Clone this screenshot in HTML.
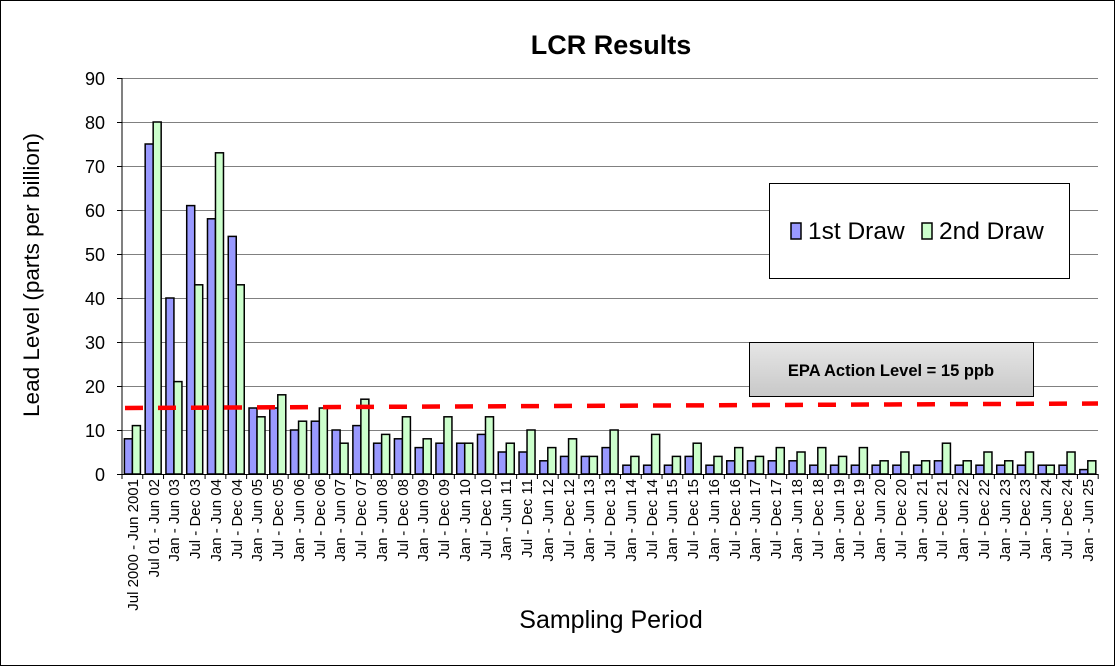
<!DOCTYPE html>
<html><head><meta charset="utf-8"><style>
html,body{margin:0;padding:0;background:#fff;}
svg{display:block;font-family:"Liberation Sans",Arial,sans-serif;}
</style></head><body>
<svg id="s" width="1116" height="667" xmlns="http://www.w3.org/2000/svg">
<rect x="0.5" y="0.5" width="1114" height="665" fill="#fff" stroke="#000"/>
<text x="611" y="54" text-anchor="middle" font-size="27" font-weight="bold">LCR Results</text>
<g id="grid" stroke="#808080" stroke-width="1"></g>
<g id="bars"></g>
<line x1="122" y1="78" x2="122" y2="474" stroke="#000"/>
<line x1="122" y1="474.5" x2="1098" y2="474.5" stroke="#000"/>
<g font-size="18" text-anchor="end">
<text x="105" y="481">0</text><text x="105" y="437">10</text><text x="105" y="393">20</text><text x="105" y="349">30</text><text x="105" y="305">40</text><text x="105" y="261">50</text><text x="105" y="217">60</text><text x="105" y="173">70</text><text x="105" y="129">80</text><text x="105" y="85">90</text>
</g>
<text transform="translate(39,275) rotate(-90)" text-anchor="middle" font-size="22.5">Lead Level (parts per billion)</text>
<text x="611" y="628" text-anchor="middle" font-size="25">Sampling Period</text>
<line x1="125" y1="408" x2="1098" y2="403.5" stroke="#f00" stroke-width="4.5" stroke-dasharray="18 15"/>
<rect x="769.5" y="183.5" width="300" height="95" fill="#fff" stroke="#000"/>
<rect x="791" y="223" width="10" height="16" fill="#9999ff" stroke="#000" stroke-width="1.5"/>
<text x="808" y="239" font-size="24.5">1st Draw</text>
<rect x="922" y="223" width="10" height="16" fill="#ccffcc" stroke="#000" stroke-width="1.5"/>
<text x="939" y="239" font-size="24.5">2nd Draw</text>
<defs><linearGradient id="gg" x1="0" y1="0" x2="0" y2="1"><stop offset="0" stop-color="#e6e6e6"/><stop offset="1" stop-color="#c8c8c8"/></linearGradient></defs>
<rect x="749.5" y="342.5" width="284" height="54" fill="url(#gg)" stroke="#000"/>
<text x="891" y="376" text-anchor="middle" font-size="16.5" font-weight="bold">EPA Action Level = 15 ppb</text>
<g font-size="15" text-anchor="end" transform="rotate(-90)">
<text x="-479" y="138">Jul 2000 - Jun 2001</text>
<text x="-479" y="159">Jul 01 - Jun 02</text>
<text x="-479" y="179">Jan - Jun 03</text>
<text x="-479" y="200">Jul - Dec 03</text>
<text x="-479" y="221">Jan - Jun 04</text>
<text x="-479" y="242">Jul - Dec 04</text>
<text x="-479" y="262">Jan - Jun 05</text>
<text x="-479" y="283">Jul - Dec 05</text>
<text x="-479" y="304">Jan - Jun 06</text>
<text x="-479" y="325">Jul - Dec 06</text>
<text x="-479" y="345">Jan - Jun 07</text>
<text x="-479" y="366">Jul - Dec 07</text>
<text x="-479" y="387">Jan - Jun 08</text>
<text x="-479" y="408">Jul - Dec 08</text>
<text x="-479" y="428">Jan - Jun 09</text>
<text x="-479" y="449">Jul - Dec 09</text>
<text x="-479" y="470">Jan - Jun 10</text>
<text x="-479" y="491">Jul - Dec 10</text>
<text x="-479" y="511">Jan - Jun 11</text>
<text x="-479" y="532">Jul - Dec 11</text>
<text x="-479" y="553">Jan - Jun 12</text>
<text x="-479" y="574">Jul - Dec 12</text>
<text x="-479" y="594">Jan - Jun 13</text>
<text x="-479" y="615">Jul - Dec 13</text>
<text x="-479" y="636">Jan - Jun 14</text>
<text x="-479" y="657">Jul - Dec 14</text>
<text x="-479" y="677">Jan - Jun 15</text>
<text x="-479" y="698">Jul - Dec 15</text>
<text x="-479" y="719">Jan - Jun 16</text>
<text x="-479" y="740">Jul - Dec 16</text>
<text x="-479" y="760">Jan - Jun 17</text>
<text x="-479" y="781">Jul - Dec 17</text>
<text x="-479" y="802">Jan - Jun 18</text>
<text x="-479" y="823">Jul - Dec 18</text>
<text x="-479" y="844">Jan - Jun 19</text>
<text x="-479" y="864">Jul - Dec 19</text>
<text x="-479" y="885">Jan - Jun 20</text>
<text x="-479" y="906">Jul - Dec 20</text>
<text x="-479" y="927">Jan - Jun 21</text>
<text x="-479" y="947">Jul - Dec 21</text>
<text x="-479" y="968">Jan - Jun 22</text>
<text x="-479" y="989">Jul - Dec 22</text>
<text x="-479" y="1010">Jan - Jun 23</text>
<text x="-479" y="1030">Jul - Dec 23</text>
<text x="-479" y="1051">Jan - Jun 24</text>
<text x="-479" y="1072">Jul - Dec 24</text>
<text x="-479" y="1093">Jan - Jun 25</text>
</g>
</svg>
<script>
(function(){
var NS="http://www.w3.org/2000/svg";
var g=document.getElementById("grid");
for(var v=10;v<=90;v+=10){var y=474-v*4.4;var l=document.createElementNS(NS,"line");
l.setAttribute("x1",122);l.setAttribute("x2",1098);l.setAttribute("y1",y+0.5);l.setAttribute("y2",y+0.5);g.appendChild(l);}
for(var v=0;v<=90;v+=10){var y=474-v*4.4;var m=document.createElementNS(NS,"line");
m.setAttribute("x1",117);m.setAttribute("x2",122);m.setAttribute("y1",y+0.5);m.setAttribute("y2",y+0.5);m.setAttribute("stroke","#000");g.appendChild(m);}
for(var i=0;i<=47;i++){var x=122+20.77*i;var t=document.createElementNS(NS,"line");
t.setAttribute("x1",x);t.setAttribute("x2",x);t.setAttribute("y1",474);t.setAttribute("y2",479);t.setAttribute("stroke","#000");g.appendChild(t);}
var a=[8,75,40,61,58,54,15,15,10,12,10,11,7,8,6,7,7,9,5,5,3,4,4,6,2,2,2,4,2,3,3,3,3,2,2,2,2,2,2,3,2,2,2,2,2,2,1];
var b=[11,80,21,43,73,43,13,18,12,15,7,17,9,13,8,13,7,13,7,10,6,8,4,10,4,9,4,7,4,6,4,6,5,6,4,6,3,5,3,7,3,5,3,5,2,5,3];
var bg=document.getElementById("bars");
function r(x,v,c){var e=document.createElementNS(NS,"rect");e.setAttribute("x",x);e.setAttribute("y",474-v*4.4);
e.setAttribute("width",8);e.setAttribute("height",v*4.4);e.setAttribute("fill",c);e.setAttribute("stroke","#000");e.setAttribute("stroke-width","1.5");bg.appendChild(e);}
for(var i=0;i<47;i++){var c=132.4+20.77*i;r(c-8,a[i],"#9999ff");r(c,b[i],"#ccffcc");}
})();
</script>
</body></html>
